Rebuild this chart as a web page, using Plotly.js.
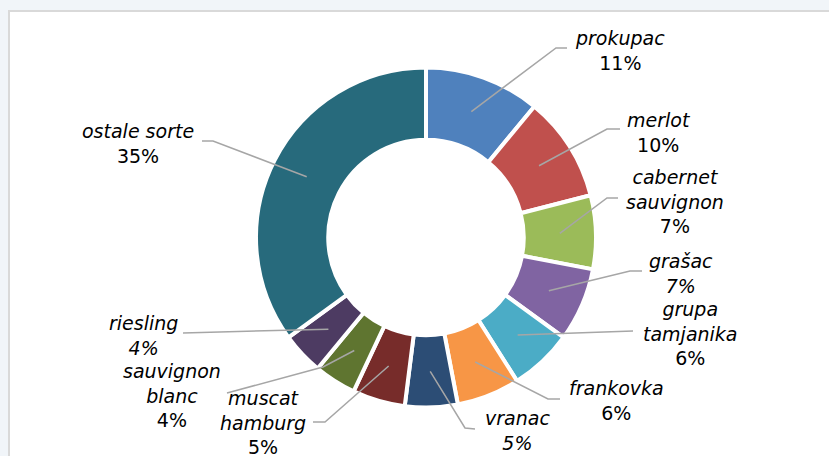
<!DOCTYPE html>
<html>
<head>
<meta charset="utf-8">
<script src="https://cdn.plot.ly/plotly-3.0.1.min.js"></script>
<style>
  html, body { margin: 0; padding: 0; background: #f1f5f9; width: 829px; height: 456px; overflow: hidden; }
  #panel { position: absolute; left: 8px; top: 10px; width: 840px; height: 470px; background: #ffffff; border: 2px solid #d9d9d9; }
  #chart { position: absolute; left: 0; top: 0; width: 829px; height: 456px; }
</style>
</head>
<body>
<div id="panel"></div>
<div id="chart"></div>
<script>
// ---- data ----
const categories = ['prokupac', 'merlot', 'cabernet sauvignon', 'grašac', 'grupa tamjanika', 'frankovka', 'vranac', 'muscat hamburg', 'sauvignon blanc', 'riesling', 'ostale sorte'];
const values = [11, 10, 7, 7, 6, 6, 5, 5, 4, 4, 35];
const displayNames = ['prokupac', 'merlot', 'cabernet<br>sauvignon', 'grašac', 'grupa<br>tamjanika', 'frankovka', 'vranac', 'muscat<br>hamburg', 'sauvignon<br>blanc', 'riesling', 'ostale sorte'];

// ---- styles ----
const colors = ['#4F81BD', '#C0504D', '#9BBB59', '#8064A2', '#4BACC6', '#F79646', '#2C4D75', '#772C2A', '#5F7530', '#4D3B62', '#276A7C'];
const percentItalic = [false, false, false, true, false, false, true, false, false, true, false];

// ---- layout positions (pixels) ----
const W = 829, H = 456;
const cx = 426, cy = 237.5, R = 170, hole = 0.575;
const labelCenter = [[620, 50], [659, 132], [675, 201], [681, 273], [690, 333], [616, 400], [517, 430], [263, 422], [172, 395], [143, 335], [138, 143]];
const leaderKnee = [[556, 48], [607, 129], [607, 198], [630, 271], [633, 331], [548, 399], [465, 428], [325, 422], [323, 367], [183, 333], [213, 141]];
const leaderEnd = [[567, 48], [620, 129], [618, 198], [642, 271], [633, 331], [560, 399], [475, 429], [313, 422], [227, 393], [183, 333], [202, 141]];

const px = x => x / W;
const py = y => 1 - y / H;

const total = values.reduce((a, b) => a + b, 0);
const annotations = [];
const shapes = [];
let cum = 0;
const rMid = (R + R * hole) / 2;
values.forEach((v, i) => {
  const midFrac = (cum + v / 2) / total;
  cum += v;
  const ang = midFrac * 2 * Math.PI;
  const sx = cx + rMid * Math.sin(ang);
  const sy = cy - rMid * Math.cos(ang);
  const pct = Math.round(v / total * 100) + '%';
  const pctText = percentItalic[i] ? '<i>' + pct + '</i>' : pct;
  annotations.push({
    xref: 'paper', yref: 'paper',
    x: px(labelCenter[i][0]), y: py(labelCenter[i][1]),
    xanchor: 'center', yanchor: 'middle', align: 'center',
    showarrow: false,
    text: '<i>' + displayNames[i] + '</i><br>' + pctText,
    font: { family: 'DejaVu Sans, Verdana, sans-serif', size: 19, color: '#000000' }
  });
  const k = leaderKnee[i], e = leaderEnd[i];
  shapes.push({
    type: 'path', xref: 'paper', yref: 'paper', layer: 'above',
    path: 'M ' + px(sx) + ' ' + py(sy) + ' L ' + px(k[0]) + ' ' + py(k[1]) + ' L ' + px(e[0]) + ' ' + py(e[1]),
    line: { color: '#a6a6a6', width: 1.5 }
  });
});

const trace = {
  type: 'pie',
  labels: categories,
  values: values,
  sort: false,
  direction: 'clockwise',
  rotation: 0,
  hole: hole,
  textinfo: 'none',
  hoverinfo: 'label+percent',
  marker: { colors: colors, line: { color: '#ffffff', width: 4 } },
  domain: { x: [px(cx - R), px(cx + R)], y: [py(cy + R), py(cy - R)] },
  showlegend: false
};

const layout = {
  width: W, height: H,
  margin: { l: 0, r: 0, t: 0, b: 0 },
  paper_bgcolor: 'rgba(0,0,0,0)',
  plot_bgcolor: 'rgba(0,0,0,0)',
  showlegend: false,
  annotations: annotations,
  shapes: shapes
};

Plotly.newPlot('chart', [trace], layout, { displayModeBar: false, staticPlot: true });
</script>
</body>
</html>
